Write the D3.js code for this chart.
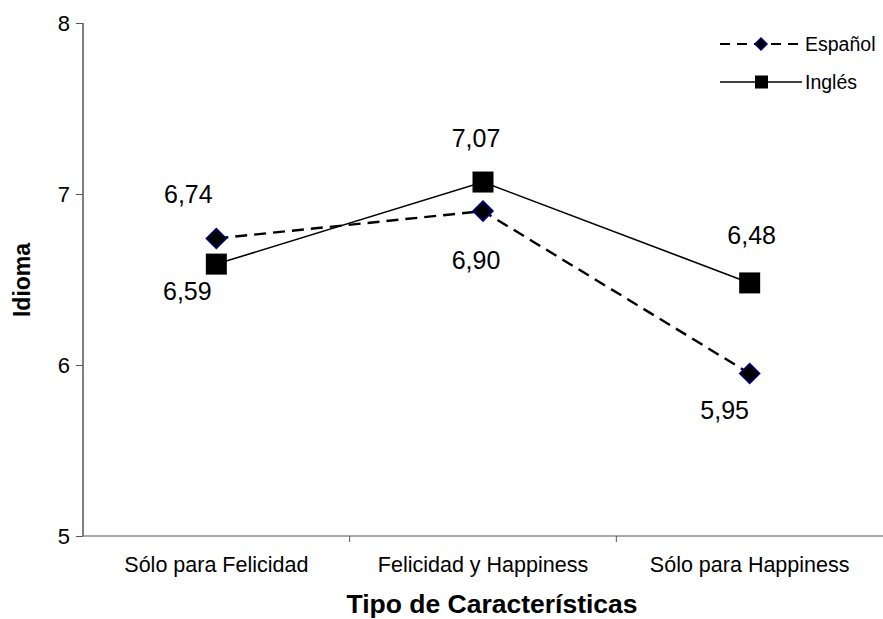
<!DOCTYPE html>
<html><head><meta charset="utf-8">
<script src="https://cdn.jsdelivr.net/npm/d3@7"></script>
<style>body{margin:0;background:#fff}svg{display:block;font-family:Arial,"Liberation Sans",sans-serif}</style>
</head><body>
<svg id="c" width="883" height="619"></svg>
<script>
const categories = ["Sólo para Felicidad", "Felicidad y Happiness", "Sólo para Happiness"];
const espanol = [6.74, 6.90, 5.95];
const ingles = [6.59, 7.07, 6.48];
const yTicks = [5, 6, 7, 8];
const seriesNames = ["Español", "Inglés"];

const FF = "Arial,'Liberation Sans',sans-serif";
const svg = d3.select("#c");
const x = d3.scaleBand().domain(categories).range([83, 883]);
const y = d3.scaleLinear().domain([5, 8]).range([536, 23]);
const cx = c => x(c) + x.bandwidth() / 2;

// y axis
const ya = svg.append("g").attr("transform", "translate(83,0)")
  .call(d3.axisLeft(y).tickValues(yTicks).tickSize(7).tickPadding(6).tickFormat(d3.format("d")));
ya.select(".domain").attr("stroke", "#000").attr("d", `M0,${y(8)}V${y(5)}`);
ya.selectAll(".tick line").attr("stroke", "#555");
ya.selectAll("text").attr("font-size", 22).attr("fill", "#000").attr("font-family", FF);

// x axis
const xa = svg.append("g").attr("transform", `translate(0,${y(5)})`)
  .call(d3.axisBottom(x).tickSize(0).tickPadding(21));
xa.select(".domain").attr("stroke", "#555").attr("d", "M83,0H883");
xa.selectAll("text").attr("font-size", 21.5).attr("fill", "#000").attr("font-family", FF);
const bounds = categories.slice(1).map(c => x(c));
svg.append("g").selectAll("line").data(bounds).join("line")
  .attr("x1", d => d).attr("x2", d => d).attr("y1", y(5)).attr("y2", y(5) + 6).attr("stroke", "#555");

// titles
svg.append("text").attr("x", 492).attr("y", 613).attr("text-anchor", "middle")
  .attr("font-size", 26.5).attr("font-weight", "bold").text("Tipo de Características");
svg.append("text").attr("transform", "translate(30,280) rotate(-90)").attr("text-anchor", "middle")
  .attr("font-size", 23).attr("font-weight", "bold").text("Idioma");

const line = d3.line().x((d, i) => cx(categories[i])).y(d => y(d));

// Inglés
svg.append("path").datum(ingles).attr("d", line).attr("fill", "none").attr("stroke", "#000").attr("stroke-width", 1.6);
// Español
svg.append("path").datum(espanol).attr("d", line).attr("fill", "none").attr("stroke", "#000")
  .attr("stroke-width", 2.4).attr("stroke-dasharray", "12,7");

const sq = 21;
svg.append("g").selectAll("rect").data(ingles).join("rect")
  .attr("x", (d, i) => cx(categories[i]) - sq / 2).attr("y", d => y(d) - sq / 2)
  .attr("width", sq).attr("height", sq).attr("fill", "#000");
const dsz = 10;
const diamond = (px, py) => `M${px},${py - dsz}L${px + dsz},${py}L${px},${py + dsz}L${px - dsz},${py}Z`;
svg.append("g").selectAll("path").data(espanol).join("path")
  .attr("d", (d, i) => diamond(cx(categories[i]), y(d)))
  .attr("fill", "#000").attr("stroke", "#000080").attr("stroke-width", 1.5);

// data labels
const fmt = v => d3.format(".2f")(v).replace(".", ",");
const espLabelOff = [[-28, -35], [-7, 58], [-25, 45]];
const ingLabelOff = [[-29, 36], [-7, -35], [2, -39]];
const labels = [];
espanol.forEach((v, i) => labels.push({v, i, o: espLabelOff[i]}));
ingles.forEach((v, i) => labels.push({v, i, o: ingLabelOff[i]}));
svg.append("g").selectAll("text").data(labels).join("text")
  .attr("x", d => cx(categories[d.i]) + d.o[0]).attr("y", d => y(d.v) + d.o[1])
  .attr("text-anchor", "middle").attr("font-size", 25).text(d => fmt(d.v));

// legend
const lg = svg.append("g");
const legY = [44, 82];
lg.append("line").attr("x1", 720).attr("x2", 802).attr("y1", legY[0]).attr("y2", legY[0])
  .attr("stroke", "#000").attr("stroke-width", 1.8).attr("stroke-dasharray", "10,7");
lg.append("path").attr("d", `M761,${legY[0] - 6}L767,${legY[0]}L761,${legY[0] + 6}L755,${legY[0]}Z`)
  .attr("fill", "#000").attr("stroke", "#000080").attr("stroke-width", 1.5);
lg.append("line").attr("x1", 720).attr("x2", 802).attr("y1", legY[1]).attr("y2", legY[1])
  .attr("stroke", "#000").attr("stroke-width", 1.5);
lg.append("rect").attr("x", 755).attr("y", legY[1] - 6.5).attr("width", 13).attr("height", 13).attr("fill", "#000");
lg.selectAll("text").data(seriesNames).join("text")
  .attr("x", 805).attr("y", (d, i) => legY[i] + 7).attr("font-size", 19.5).text(d => d);
</script>
</body></html>
